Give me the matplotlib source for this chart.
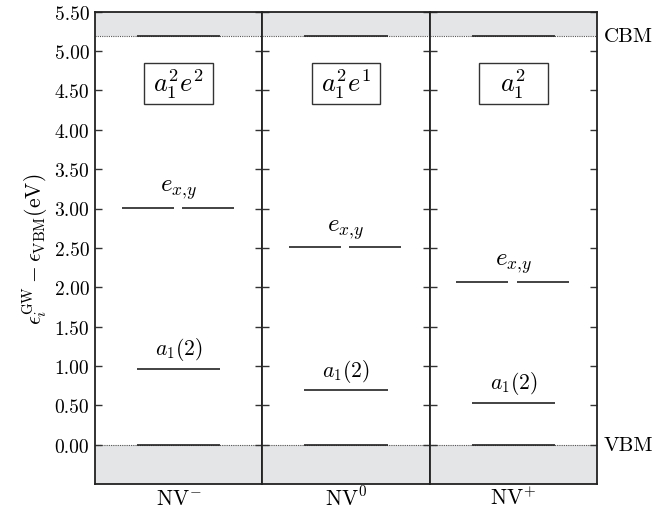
import numpy as np
import matplotlib
matplotlib.use("Agg")
import matplotlib.pyplot as plt
from matplotlib.patches import Rectangle
from matplotlib.ticker import FixedLocator, FormatStrFormatter

plt.rcParams["font.family"] = "serif"
plt.rcParams["font.serif"] = ["cmr10"]
plt.rcParams["mathtext.fontset"] = "cm"
plt.rcParams["axes.formatter.use_mathtext"] = True

# defect states, energies relative to the VBM (eV)
states = [r"NV$^{-}$", r"NV$^{0}$", r"NV$^{+}$"]
configs = [r"$a_1^2e^2$", r"$a_1^2e^1$", r"$a_1^2$"]
e_xy = [3.01, 2.51, 2.07]
a1_2 = [0.965, 0.69, 0.535]
vbm = 0.0
cbm = 5.19
yticks = [0.0, 0.5, 1.0, 1.5, 2.0, 2.5, 3.0, 3.5, 4.0, 4.5, 5.0, 5.5]

fig, axes = plt.subplots(1, 3, sharey=True, figsize=(6.59, 5.10), dpi=100)
fig.subplots_adjust(left=0.144, right=0.906, bottom=0.049, top=0.975, wspace=0)

shade = "#e4e5e7"
for i, ax in enumerate(axes):
    ax.set_xlim(0, 1)
    ax.set_ylim(-0.5, 5.5)
    ax.axhspan(-0.5, vbm, color=shade, lw=0, zorder=0)
    ax.axhspan(cbm, 5.5, color=shade, lw=0, zorder=0)
    ax.axhline(vbm, color="#555555", lw=0.8, ls=(0, (1, 1)), zorder=1)
    ax.axhline(cbm, color="#555555", lw=0.8, ls=(0, (1, 1)), zorder=1)
    # band edge levels
    ax.hlines([vbm, cbm], 0.25, 0.75, color="#222222", lw=1.2, zorder=2)
    # defect levels
    ax.hlines(a1_2[i], 0.25, 0.75, color="#222222", lw=1.2, zorder=2)
    ax.hlines(e_xy[i], 0.16, 0.47, color="#222222", lw=1.2, zorder=2)
    ax.hlines(e_xy[i], 0.52, 0.83, color="#222222", lw=1.2, zorder=2)
    ax.text(0.5, a1_2[i] + 0.08, r"$a_1(2)$", ha="center", va="bottom", fontsize=15.5)
    ax.text(0.5, e_xy[i] + 0.08, r"$e_{x,\!y}$", ha="center", va="bottom", fontsize=18)
    # occupation box, fixed size
    ax.add_patch(Rectangle((0.295, 4.325), 0.41, 0.52, fc="white", ec="#333333",
                           lw=1.0, zorder=3))
    ax.text(0.5, 4.585, configs[i], ha="center", va="center", fontsize=19, zorder=4)
    ax.set_xticks([0.5])
    ax.set_xticklabels([states[i]], fontsize=15.5)
    ax.tick_params(axis="x", length=0, pad=14.5)
    for lab in ax.get_xticklabels():
        lab.set_va("baseline")
    ax.yaxis.set_major_locator(FixedLocator(yticks))
    ax.yaxis.set_major_formatter(FormatStrFormatter("%.2f"))
    ax.tick_params(axis="y", direction="in", left=True, right=True,
                   length=5, width=1.0, color="#333333", labelsize=14, pad=4)
    for sp in ax.spines.values():
        sp.set_color("#222222")
        sp.set_linewidth(1.3)

axes[0].set_ylabel(r"$\epsilon_i^{\rm GW} - \epsilon_{\rm VBM}(\rm eV)$", fontsize=15.5, labelpad=3)
axes[2].text(1.04, cbm, "CBM", transform=axes[2].get_yaxis_transform(),
             ha="left", va="center", fontsize=15)
axes[2].text(1.04, vbm, "VBM", transform=axes[2].get_yaxis_transform(),
             ha="left", va="center", fontsize=15)

fig.savefig("out.png", dpi=100)
